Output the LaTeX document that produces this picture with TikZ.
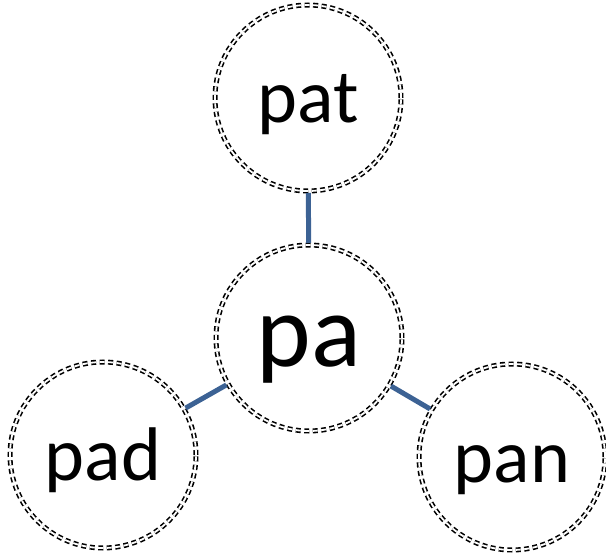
\documentclass[tikz,border=0pt]{standalone}
\usepackage{fontspec}
\setmainfont{Carlito}
\definecolor{linkblue}{RGB}{60,98,148}
\newcommand{\blab}[2]{\raisebox{-#1pt}[0pt][0pt]{#2}}
\begin{document}
\begin{tikzpicture}[x=1pt,y=-1pt,
  bubble/.style={circle, minimum size=186pt, inner sep=0pt, outer sep=2pt,
    draw=black, line width=1.6pt, double=white, double distance=1.8pt,
    dash pattern=on 5pt off 3.5pt, font=\fontsize{76}{80}\selectfont},
  link/.style={draw=linkblue, line width=5pt}]
\useasboundingbox (0,0) rectangle (606,556);
\node[bubble] (pat) at (308,98) {\blab{25}{pat}};
\node[bubble, font=\fontsize{104}{110}\selectfont] (pa) at (309,338) {\blab{29}{pa}};
\node[bubble] (pad) at (103,455) {\blab{25}{pad}};
\node[bubble] (pan) at (512,457) {\blab{25}{pan}};
\draw[link] (pat) -- (pa);
\draw[link] (pa) -- (pad);
\draw[link] (pa) -- (pan);
\end{tikzpicture}
\end{document}
